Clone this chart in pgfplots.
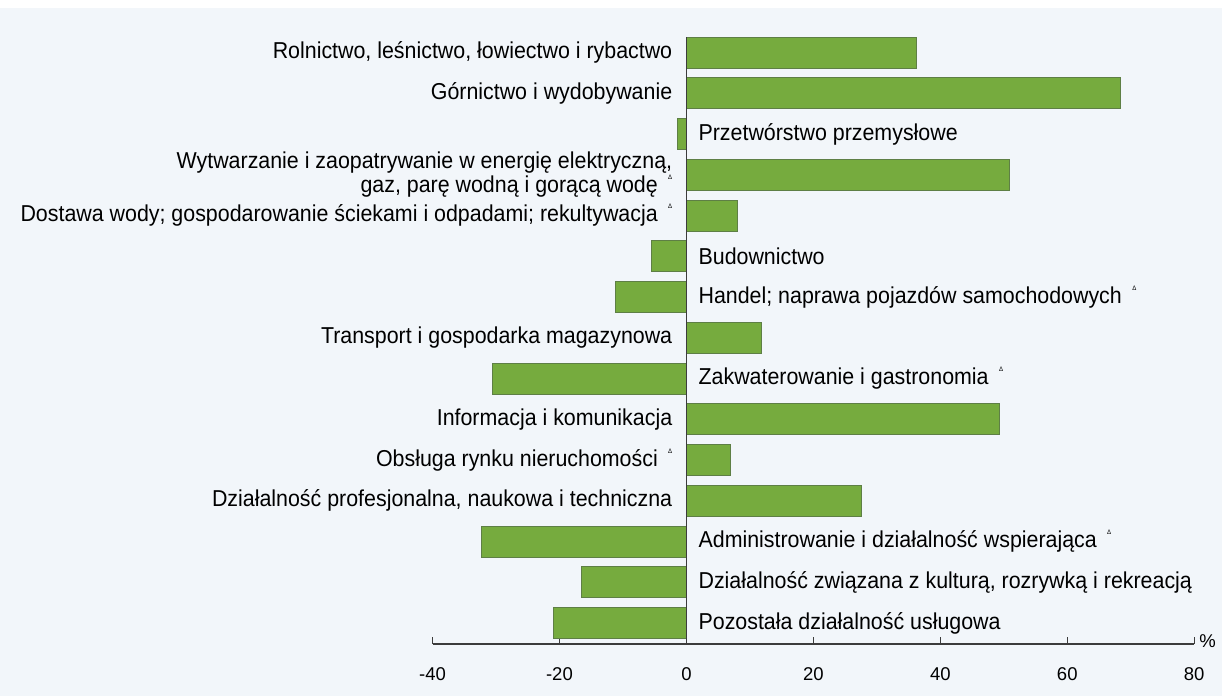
\documentclass[border=0pt]{standalone}
\usepackage{pgfplots}
\pgfplotsset{compat=1.18}
\usepackage{fontspec}
\setmainfont{Liberation Sans}[FakeStretch=0.93]
\newfontfamily\tickfont{Liberation Sans}
\definecolor{bg}{HTML}{F2F6FA}
\definecolor{barc}{HTML}{76AB3E}
\definecolor{baredge}{HTML}{5E7F45}
\definecolor{axc}{HTML}{3C3C3C}
\newcommand{\dl}{\hspace{0.45em}\raisebox{0.56em}{\fontsize{6.5}{7}\selectfont Δ}}
\newcommand{\lab}{\fontsize{23}{24}\selectfont}
\begin{document}
\begin{tikzpicture}[x=1pt,y=1pt]
\fill[white] (0,0) rectangle (1222,696);
\fill[bg] (0,0) rectangle (1222,688);
\begin{axis}[
 at={(432.5pt,52pt)}, anchor=south west,
 scale only axis, width=761.7pt, height=632.2pt,
 xmin=-40, xmax=80, ymin=-0.515, ymax=15,
 axis x line*=bottom, axis y line=none,
 x axis line style={axc, line width=1.4pt, -},
 xtick={-40,-20,0,20,40,60,80},
 tick align=inside, major tick length=7pt,
 tick style={axc, line width=1.2pt},
 ytick=\empty,
 xticklabel style={font=\tickfont\fontsize{18.5}{20}\selectfont, anchor=base, yshift=-36pt},
 /pgf/number format/assume math mode=true,
 clip=false,
]
\addplot[xbar, bar width=31pt, fill=barc, draw=baredge, line width=0.6pt] coordinates {
 (36.2,14) (68.3,13) (-1.4,12) (50.9,11) (8.0,10) (-5.5,9) (-11.2,8) (11.8,7)
 (-30.6,6) (49.3,5) (6.9,4) (27.6,3) (-32.3,2) (-16.5,1) (-20.9,0)};
\draw[axc, line width=1.4pt] (axis cs:0,-0.515) -- (axis cs:0,14.38);
\tikzset{lp/.style={anchor=east, xshift=-14pt, inner sep=0pt, font=\lab, align=right},
         ln/.style={anchor=west, xshift=12pt, inner sep=0pt, font=\lab, align=left}}
\node[lp] at (axis cs:0,14) {Rolnictwo, leśnictwo, łowiectwo i rybactwo};
\node[lp] at (axis cs:0,13) {Górnictwo i wydobywanie};
\node[ln] at (axis cs:0,12) {Przetwórstwo przemysłowe};
\node[lp] at (axis cs:0,11) {Wytwarzanie i zaopatrywanie w energię elektryczną,\\gaz, parę wodną i gorącą wodę\dl};
\node[lp] at (axis cs:0,10) {Dostawa wody; gospodarowanie ściekami i odpadami; rekultywacja\dl};
\node[ln] at (axis cs:0,9) {Budownictwo};
\node[ln] at (axis cs:0,8) {Handel; naprawa pojazdów samochodowych\dl};
\node[lp] at (axis cs:0,7) {Transport i gospodarka magazynowa};
\node[ln] at (axis cs:0,6) {Zakwaterowanie i gastronomia\dl};
\node[lp] at (axis cs:0,5) {Informacja i komunikacja};
\node[lp] at (axis cs:0,4) {Obsługa rynku nieruchomości\dl};
\node[lp] at (axis cs:0,3) {Działalność profesjonalna, naukowa i techniczna};
\node[ln] at (axis cs:0,2) {Administrowanie i działalność wspierająca\dl};
\node[ln] at (axis cs:0,1) {Działalność związana z kulturą, rozrywką i rekreacją};
\node[ln] at (axis cs:0,0) {Pozostała działalność usługowa};
\node[anchor=base west, inner sep=0pt, font=\tickfont\fontsize{18.5}{20}\selectfont, xshift=5pt, yshift=-3pt] at (axis cs:80,-0.515) {\%};
\end{axis}
\end{tikzpicture}
\end{document}
